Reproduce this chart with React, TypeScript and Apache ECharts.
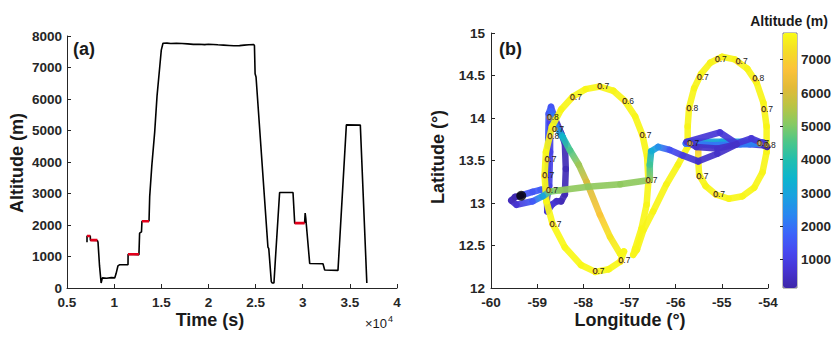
import React, { useEffect, useRef } from 'react';
import * as echarts from 'echarts';

// ---------- Panel (a): altitude time series ----------
const timeS = [
  7120, 7125, 7470, 7480, 8220, 8290, 8450, 8620, 8750, 9200, 9700, 10060, 10200, 10400, 10600,
  11470, 11480, 12630, 12700, 12900, 12950, 13700, 13770, 14000, 14300, 14550, 14830, 15000, 15180,
  15600, 16000, 16600, 17200, 17800, 18400, 19000, 19600, 20000, 20500, 21000, 21600, 22200, 22700,
  23300, 23800, 24300, 24800, 24880, 24950, 25050, 26310, 26400, 26670, 26750, 26950, 27100, 27550,
  28970, 29150, 30200, 30260, 30330, 30740, 32150, 32330, 33740, 34630, 36110, 36800,
];
const altM = [
  1450, 1650, 1650, 1520, 1510, 1450, 700, 160, 320, 310, 330, 320, 450, 700, 740,
  740, 1070, 1060, 1740, 1780, 2120, 2130, 2900, 3900, 4950, 6100, 7000, 7550, 7770,
  7775, 7760, 7770, 7760, 7750, 7735, 7740, 7725, 7740, 7730, 7720, 7710, 7700, 7690,
  7695, 7710, 7720, 7725, 7700, 6800, 6700, 1300, 1250, 200, 160, 160, 900, 3030,
  3030, 2060, 2070, 2380, 2200, 780, 770, 570, 560, 5180, 5170, 160,
];
// red (level legs)
const legStartS = [7120, 7470, 11470, 12950, 29150];
const legEndS = [7470, 8220, 12630, 13700, 30200];
const legAltM = [1650, 1520, 1070, 2120, 2060];

// ---------- Panel (b): flight track ----------
const trackLon = [
  -59.35, -59.10, -58.93, -58.80, -58.77, -58.76, -58.75, -58.70, -58.62, -58.48, -58.40, -58.38, -58.40,
  -58.48, -58.58, -58.68, -58.78, -58.79, -58.74, -58.72, -58.72, -58.70, -58.66, -58.61,
  -58.45, -58.29, -58.10, -57.93, -57.64, -57.42, -57.20, -57.12,
  -57.20, -57.45, -57.74, -58.05, -58.40, -58.67, -58.80, -58.84, -58.81, -58.68, -58.48, -58.23,
  -57.95, -57.64, -57.35, -57.10, -56.88, -56.72, -56.62, -56.59, -56.63, -56.74, -56.88, -56.92,
  -56.84, -56.70, -56.49, -56.20, -55.95, -55.74,
  -55.74, -55.71, -55.60, -55.45, -55.25, -55.00, -54.72, -54.45, -54.25, -54.10, -54.03, -54.03,
  -54.12, -54.30, -54.55, -54.85, -55.13, -55.35, -55.49, -55.51,
  -55.51, -55.35, -54.90, -54.40, -54.10, -54.02, -54.10, -54.30, -55.00, -55.72,
  -55.78, -55.20, -54.60, -54.18, -54.14, -54.36, -54.68, -55.04, -55.76,
  -55.55, -55.10, -54.68, -55.10, -55.51, -55.85, -56.13, -56.38, -56.53, -56.56, -56.56,
  -57.20, -57.90, -58.50, -58.72, -58.88, -59.10, -59.45, -59.56, -59.48, -59.35,
];
const trackLat = [
  13.09, 13.13, 13.155, 13.17, 13.40, 13.75, 14.05, 14.13, 14.00, 13.82, 13.70, 13.40, 13.10,
  13.02, 13.02, 12.98, 12.90, 13.05, 13.20, 13.60, 13.95, 14.08, 14.02, 13.92,
  13.78, 13.62, 13.45, 13.25, 12.86, 12.60, 12.40, 12.43,
  12.31, 12.22, 12.19, 12.27, 12.48, 12.76, 13.02, 13.32, 13.60, 13.90, 14.10, 14.25,
  14.34, 14.37, 14.32, 14.20, 14.02, 13.80, 13.55, 13.26, 12.98, 12.70, 12.46, 12.39,
  12.45, 12.68, 12.90, 13.22, 13.45, 13.66,
  13.90, 14.12, 14.35, 14.52, 14.65, 14.72, 14.69, 14.58, 14.42, 14.18, 13.90, 13.60,
  13.36, 13.18, 13.08, 13.05, 13.10, 13.20, 13.33, 13.48,
  13.66, 13.70, 13.70, 13.69, 13.68, 13.66, 13.71, 13.72, 13.72, 13.72,
  13.70, 13.68, 13.69, 13.70, 13.71, 13.76, 13.70, 13.83, 13.72,
  13.66, 13.64, 13.69, 13.58, 13.49, 13.56, 13.625, 13.66, 13.61, 13.45, 13.27,
  13.22, 13.19, 13.15, 13.135, 13.08, 13.02, 12.98, 13.03, 13.07, 13.085,
];
const trackAlt = [
  1430, 1500, 1640, 1620, 1510, 1510, 1510, 1480, 900, 200, 330, 320, 330,
  330, 500, 740, 740, 740, 1050, 1050, 1050, 1780, 2120, 2120,
  3500, 4500, 5300, 6000, 6800, 7400, 7700, 7740,
  7740, 7750, 7760, 7750, 7740, 7740, 7750, 7740, 7740, 7730, 7720, 7720,
  7730, 7710, 7700, 7700, 7710, 7720, 7700, 7700, 7710, 7720, 7710, 7700,
  7700, 7690, 7690, 7690, 7690, 7700,
  7700, 7700, 7690, 7690, 7680, 7680, 7690, 7690, 7700, 7700, 7700, 7700,
  7700, 7710, 7710, 7710, 7700, 7700, 7700, 7700,
  6700, 5500, 3500, 1600, 400, 160, 1500, 3030, 3030, 3030,
  2060, 2060, 2060, 2360, 760, 760, 760, 760, 760,
  560, 560, 560, 560, 560, 900, 1400, 2500, 3200, 4300, 5150,
  5160, 5170, 5170, 4900, 3000, 1600, 700, 400, 250, 160,
];
const startLon = -59.345;
const startLat = 13.085;

// value labels along the track
const labelLon = [-58.73, -58.62, -58.72, -58.78, -58.83, -58.75, -58.67, -58.23, -57.64, -57.10, -56.72, -56.59, -57.18,
  -57.74, -55.09, -54.64, -54.28, -54.09, -55.48, -55.71, -55.69, -55.49, -55.13, -54.18, -54.03];
const labelLat = [14.005, 13.87, 13.78, 13.51, 13.32, 13.15, 12.75, 14.24, 14.37, 14.20, 13.80, 13.26, 12.32,
  12.20, 14.69, 14.66, 14.46, 14.10, 14.48, 14.11, 13.70, 13.31, 13.10, 13.70, 13.68];
const labelText = ['0.8', '0.7', '0.8', '0.7', '0.7', '0.7', '0.7', '0.7', '0.7', '0.6', '0.7', '0.7', '0.7',
  '0.7', '0.7', '0.7', '0.8', '0.7', '0.7', '0.8', '0.7', '0.7', '0.7', '0.7', '0.8'];

const altMin = 150;
const altMax = 7800;

const parulaColors = [
  '#3E26A8', '#4634D3', '#4748F0', '#3C64FA', '#2A86F0', '#1AA0E0', '#0DB4CE', '#20BEB0',
  '#4BC68A', '#86CA63', '#BAC444', '#E2BA38', '#FBC23A', '#F5DC26', '#F9FB15',
];

function hexToRgb(h: string) {
  const n = parseInt(h.slice(1), 16);
  return [(n >> 16) & 255, (n >> 8) & 255, n & 255];
}
const parulaRgb = parulaColors.map(hexToRgb);
function parula(alt: number) {
  let f = (alt - altMin) / (altMax - altMin);
  f = Math.max(0, Math.min(1, f));
  const p = f * (parulaRgb.length - 1);
  const i = Math.min(parulaRgb.length - 2, Math.floor(p));
  const t = p - i;
  const a = parulaRgb[i];
  const b = parulaRgb[i + 1];
  const c = a.map((v, k) => Math.round(v + (b[k] - v) * t));
  return `rgb(${c[0]},${c[1]},${c[2]})`;
}

const FONT = 'Liberation Sans, Arial, Helvetica, sans-serif';
const AX = '#262626';
const plain = (v: number) => String(v);

function labelStyle(margin: number, formatter: (v: number) => string = plain) {
  return { color: AX, fontSize: 13.5, fontWeight: 'bold', fontFamily: FONT, margin, formatter };
}

function axisCommon(extra: any) {
  return {
    axisLine: { show: true, lineStyle: { color: AX, width: 1 } },
    axisTick: { show: true, inside: true, length: 4, lineStyle: { color: AX } },
    splitLine: { show: false },
    ...extra,
  };
}

function titleText(x: number, y: number, text: string, size: number, rot = 0, align = 'center', weight = 'bold') {
  return {
    type: 'text',
    x,
    y,
    rotation: rot,
    silent: true,
    style: {
      text,
      fontSize: size,
      fontWeight: weight,
      fontFamily: FONT,
      fill: '#1a1a1a',
      align,
      textAlign: align,
      verticalAlign: 'middle',
      textVerticalAlign: 'middle',
    },
  };
}

export default function App() {
  const ref = useRef<HTMLDivElement>(null);
  useEffect(() => {
    document.body.style.margin = '0';
    const chart = echarts.init(ref.current!, null, { renderer: 'svg' });

    const lineData = timeS.map((t, i) => [t, altM[i]]);
    const legSeries = legStartS.map((s, i) => ({
      type: 'line',
      xAxisIndex: 0,
      yAxisIndex: 0,
      showSymbol: false,
      silent: true,
      z: 3,
      lineStyle: { color: '#E3001B', width: 2.6 },
      data: [[s, legAltM[i]], [legEndS[i], legAltM[i]]],
    }));

    const segs = trackLon.slice(1).map((_, i) => [
      trackLon[i], trackLat[i], trackLon[i + 1], trackLat[i + 1], trackAlt[i], trackAlt[i + 1],
    ]);

    const option: any = {
      animation: false,
      textStyle: { fontFamily: FONT },
      grid: [
        { left: 67, top: 36, width: 330, height: 252 },
        { left: 491, top: 33, width: 277, height: 255 },
        { left: 783, top: 33, width: 14, height: 255, show: true, borderColor: AX, borderWidth: 0.6, backgroundColor: 'transparent' },
      ],
      xAxis: [
        axisCommon({
          type: 'value', gridIndex: 0, min: 5000, max: 40000, interval: 5000,
          axisLabel: labelStyle(7, (v: number) => String(v / 10000)),
        }),
        axisCommon({
          type: 'value', gridIndex: 1, min: -60, max: -54, interval: 1,
          axisLabel: labelStyle(7),
        }),
        { type: 'value', gridIndex: 2, min: 0, max: 1, show: false },
      ],
      yAxis: [
        axisCommon({ type: 'value', gridIndex: 0, min: 0, max: 8000, interval: 1000, axisLabel: labelStyle(5) }),
        axisCommon({ type: 'value', gridIndex: 1, min: 12, max: 15, interval: 0.5, axisLabel: labelStyle(6) }),
        {
          type: 'value', gridIndex: 2, min: altMin, max: altMax, splitNumber: 8, position: 'right',
          axisLine: { show: false },
          axisTick: { show: true, inside: true, length: 3, lineStyle: { color: AX } },
          splitLine: { show: false },
          axisLabel: { ...labelStyle(4), showMinLabel: false, showMaxLabel: false },
        },
      ],
      visualMap: {
        type: 'continuous',
        show: true,
        seriesIndex: [],
        min: altMin,
        max: altMax,
        left: 783,
        top: 33,
        itemWidth: 14,
        itemHeight: 255,
        calculable: false,
        text: null,
        showLabel: false,
        inRange: { color: parulaColors },
        padding: 0,
        z: 1,
      },
      series: [
        {
          type: 'line',
          xAxisIndex: 0,
          yAxisIndex: 0,
          showSymbol: false,
          silent: true,
          lineStyle: { color: '#000', width: 1.6 },
          data: lineData,
          z: 2,
        },
        ...legSeries,
        {
          type: 'custom',
          xAxisIndex: 1,
          yAxisIndex: 1,
          silent: true,
          encode: { x: [0, 2], y: [1, 3] },
          data: segs,
          renderItem: (_p: any, api: any) => {
            const a = api.coord([api.value(0), api.value(1)]);
            const b = api.coord([api.value(2), api.value(3)]);
            const c1 = parula(api.value(4));
            const c2 = parula(api.value(5));
            const same = Math.abs(a[0] - b[0]) < 0.01 && Math.abs(a[1] - b[1]) < 0.01;
            const stroke = same
              ? c1
              : new echarts.graphic.LinearGradient(a[0], a[1], b[0], b[1], [
                  { offset: 0, color: c1 },
                  { offset: 1, color: c2 },
                ], true);
            return {
              type: 'line',
              shape: { x1: a[0], y1: a[1], x2: b[0], y2: b[1] },
              style: { stroke, lineWidth: 6.5, lineCap: 'round', opacity: 0.92 },
            };
          },
        },
        {
          type: 'scatter',
          xAxisIndex: 1,
          yAxisIndex: 1,
          silent: true,
          symbol: 'circle',
          symbolSize: 5,
          itemStyle: { color: 'rgba(250,215,90,0.7)', borderColor: '#E0901A', borderWidth: 0.9, opacity: 1 },
          label: {
            show: true,
            position: [0.3, 2.5],
            align: 'left',
            verticalAlign: 'middle',
            fontSize: 8.5,
            color: '#1a1a1a',
            fontFamily: FONT,
            formatter: (p: any) => labelText[p.dataIndex],
          },
          labelLayout: { hideOverlap: false },
          data: labelLon.map((lo, i) => [lo, labelLat[i]]),
          z: 4,
        },
        {
          type: 'scatter',
          xAxisIndex: 1,
          yAxisIndex: 1,
          silent: true,
          symbol: 'circle',
          symbolSize: 10,
          itemStyle: { color: '#000' },
          data: [[startLon, startLat]],
          z: 5,
        },
      ],
      graphic: [
        titleText(17, 163, 'Altitude (m)', 18, Math.PI / 2),
        titleText(210, 320, 'Time (s)', 18),
        {
          type: 'text',
          x: 365,
          y: 323,
          silent: true,
          style: {
            text: '×10{sup|4}',
            fontSize: 13,
            fontFamily: FONT,
            fill: '#1a1a1a',
            align: 'left',
            textAlign: 'left',
            verticalAlign: 'middle',
            textVerticalAlign: 'middle',
            rich: { sup: { fontSize: 9, fontFamily: FONT, fill: '#1a1a1a', padding: [0, 0, 9, 1] } },
          },
        },
        titleText(73, 49, '(a)', 18, 0, 'left'),
        titleText(499, 49, '(b)', 18, 0, 'left'),
        titleText(630, 320, 'Longitude (°)', 18),
        titleText(438, 157, 'Latitude (°)', 18, Math.PI / 2),
        titleText(789, 21, 'Altitude (m)', 14),
      ],
    };

    chart.setOption(option);
    return () => chart.dispose();
  }, []);
  return <div ref={ref} style={{ width: 838, height: 342 }} />;
}
